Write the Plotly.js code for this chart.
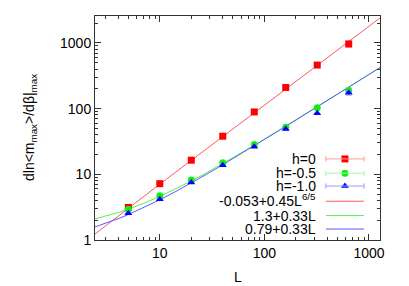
<!DOCTYPE html>
<html>
<head>
<meta charset="utf-8">
<script src="https://cdn.plot.ly/plotly-3.0.1.min.js"></script>
<style>html,body{margin:0;padding:0;background:#fff;}#chart{width:409px;height:286px;}</style>
</head>
<body>
<div id="chart"></div>
<script>
// ---- data ----
const sizesL = [5, 10, 20, 40, 80, 160, 320, 640];
const valsH0 = [3.13, 7.2, 16.4, 38, 89, 210, 460, 965];
const errH0 = [0, 0, 0, 0, 0, 0, 0, 100];
const valsH05 = [2.95, 4.7, 8.2, 15.0, 28.5, 52, 103, 189];
const errH05 = [0, 0, 0, 0, 0, 0, 0, 20];
const valsH10 = [2.56, 4.18, 7.5, 13.7, 26.3, 49, 85, 175];
const errH10 = [0, 0, 0, 0, 0, 0, 0, 15];
const seriesNames = ['h=0', 'h=-0.5', 'h=-1.0'];
// fit curves: a + b * L^p (coefficients from the key)
const fitNames = ['-0.053+0.45L<sup>6/5</sup>', '1.3+0.33L', '0.79+0.33L'];
const fitA = [-0.053, 1.3, 0.79];
const fitB = [0.45, 0.33, 0.33];
const fitP = [1.2, 1, 1];
const fitL = [2.4, 3, 4, 5, 7, 10, 14, 20, 28, 40, 56, 80, 113, 160, 226, 320, 452, 640, 905, 1280];
const xTickVals = [10, 100, 1000];
const xTickText = ['10', '100', '1000'];
const yTickVals = [1, 10, 100, 1000];
const yTickText = ['1', '10', '100', '1000'];
const xTitle = 'L';
const yTitle = 'dln&lt;m<sub>max</sub>&gt;/dβ|<sub>max</sub>';

// ---- styles ----
const ptColors = ['#ff0000', '#11ee11', '#0000ff'];
const errColors = ['#ff9c9c', '#9cff9c', '#9c9cff'];
const fitColors = ['#ff5a5a', '#55ee55', '#5a5aff'];
const symbols = ['square', 'circle', 'triangle-up'];
const symSizes = [7, 7, 7];
const FONT = 'Liberation Sans, Arial, Helvetica, sans-serif';

const dataVals = [valsH0, valsH05, valsH10];
const dataErr = [errH0, errH05, errH10];

const traces = [];
// fit lines
for (let i = 0; i < 3; i++) {
  traces.push({
    x: fitL,
    y: fitL.map(l => fitA[i] + fitB[i] * Math.pow(l, fitP[i])),
    mode: 'lines', type: 'scatter',
    line: {color: fitColors[i], width: 1},
    hoverinfo: 'skip', showlegend: false
  });
}
// data points
for (let i = 0; i < 3; i++) {
  traces.push({
    x: sizesL, y: dataVals[i], mode: 'markers', type: 'scatter',
    marker: {symbol: symbols[i], size: symSizes[i], color: ptColors[i]},
    error_y: {type: 'data', array: dataErr[i], visible: true, color: errColors[i], thickness: 1, width: 3},
    showlegend: false, cliponaxis: false
  });
}

// ---- hand-built key (text on left, sample on right, gnuplot style) ----
const keyRowY = [0.362, 0.298, 0.241, 0.18, 0.107, 0.048];
const keyLineY = [0.362, 0.298, 0.241, 0.173, 0.109, 0.049];
const keyTextX = 0.778, keyX0 = 0.81, keyX1 = 0.944, keyMid = 0.877;
const annotations = [];
const shapes = [];
const allKeyNames = seriesNames.concat(fitNames);
for (let i = 0; i < 6; i++) {
  annotations.push({
    xref: 'paper', yref: 'paper', x: keyTextX, y: keyRowY[i],
    xanchor: 'right', yanchor: 'middle', showarrow: false, borderpad: 0,
    text: allKeyNames[i], font: {family: FONT, size: 14, color: '#000'}
  });
  const col = i < 3 ? errColors[i] : fitColors[i - 3];
  shapes.push({type: 'line', xref: 'paper', yref: 'paper', x0: keyX0, x1: keyX1,
    y0: keyLineY[i], y1: keyLineY[i], line: {color: col, width: 1}});
  if (i < 3) {
    [keyX0, keyX1].forEach(xx => shapes.push({type: 'line', xref: 'paper', yref: 'paper',
      x0: xx, x1: xx, y0: keyLineY[i] - 0.012, y1: keyLineY[i] + 0.012,
      line: {color: col, width: 1}}));
  }
}
// axis titles
annotations.push({xref: 'paper', yref: 'paper', x: 0.5, y: -0.164, xanchor: 'center', yanchor: 'middle',
  showarrow: false, text: xTitle, font: {family: FONT, size: 14, color: '#000'}});
annotations.push({xref: 'paper', yref: 'paper', x: -0.228, y: 0.5, xanchor: 'center', yanchor: 'middle',
  textangle: -90, showarrow: false, text: yTitle, font: {family: FONT, size: 14, color: '#000'}});

for (let i = 0; i < 3; i++) {
  traces.push({
    x: [keyMid], y: [keyLineY[i]], xaxis: 'x2', yaxis: 'y2',
    mode: 'markers', type: 'scatter',
    marker: {symbol: symbols[i], size: symSizes[i], color: ptColors[i]},
    showlegend: false, hoverinfo: 'skip', cliponaxis: false
  });
}

const axisCommon = {
  type: 'log', showgrid: false, zeroline: false,
  showline: true, linecolor: '#333', linewidth: 1, mirror: 'ticks',
  ticks: 'inside', ticklen: 6, tickcolor: '#333', tickwidth: 1,
  tickfont: {family: FONT, size: 14, color: '#000'},
  minor: {dtick: 'D1', ticks: 'inside', ticklen: 3, tickcolor: '#333', showgrid: false}
};

const layout = {
  width: 409, height: 286,
  margin: {l: 95, r: 29, t: 16, b: 46, pad: 0},
  paper_bgcolor: '#fff', plot_bgcolor: '#fff',
  font: {family: FONT, size: 14, color: '#000'},
  showlegend: false,
  xaxis: Object.assign({}, axisCommon, {
    range: [Math.log10(2.4), Math.log10(1275)],
    tickmode: 'array', tickvals: xTickVals, ticktext: xTickText
  }),
  yaxis: Object.assign({}, axisCommon, {
    range: [0, 3.41],
    tickmode: 'array', tickvals: yTickVals, ticktext: yTickText
  }),
  xaxis2: {overlaying: 'x', range: [0, 1], visible: false, fixedrange: true},
  yaxis2: {overlaying: 'y', range: [0, 1], visible: false, fixedrange: true},
  annotations: annotations,
  shapes: shapes
};

Plotly.newPlot('chart', traces, layout, {displayModeBar: false, staticPlot: true});
</script>
</body>
</html>
